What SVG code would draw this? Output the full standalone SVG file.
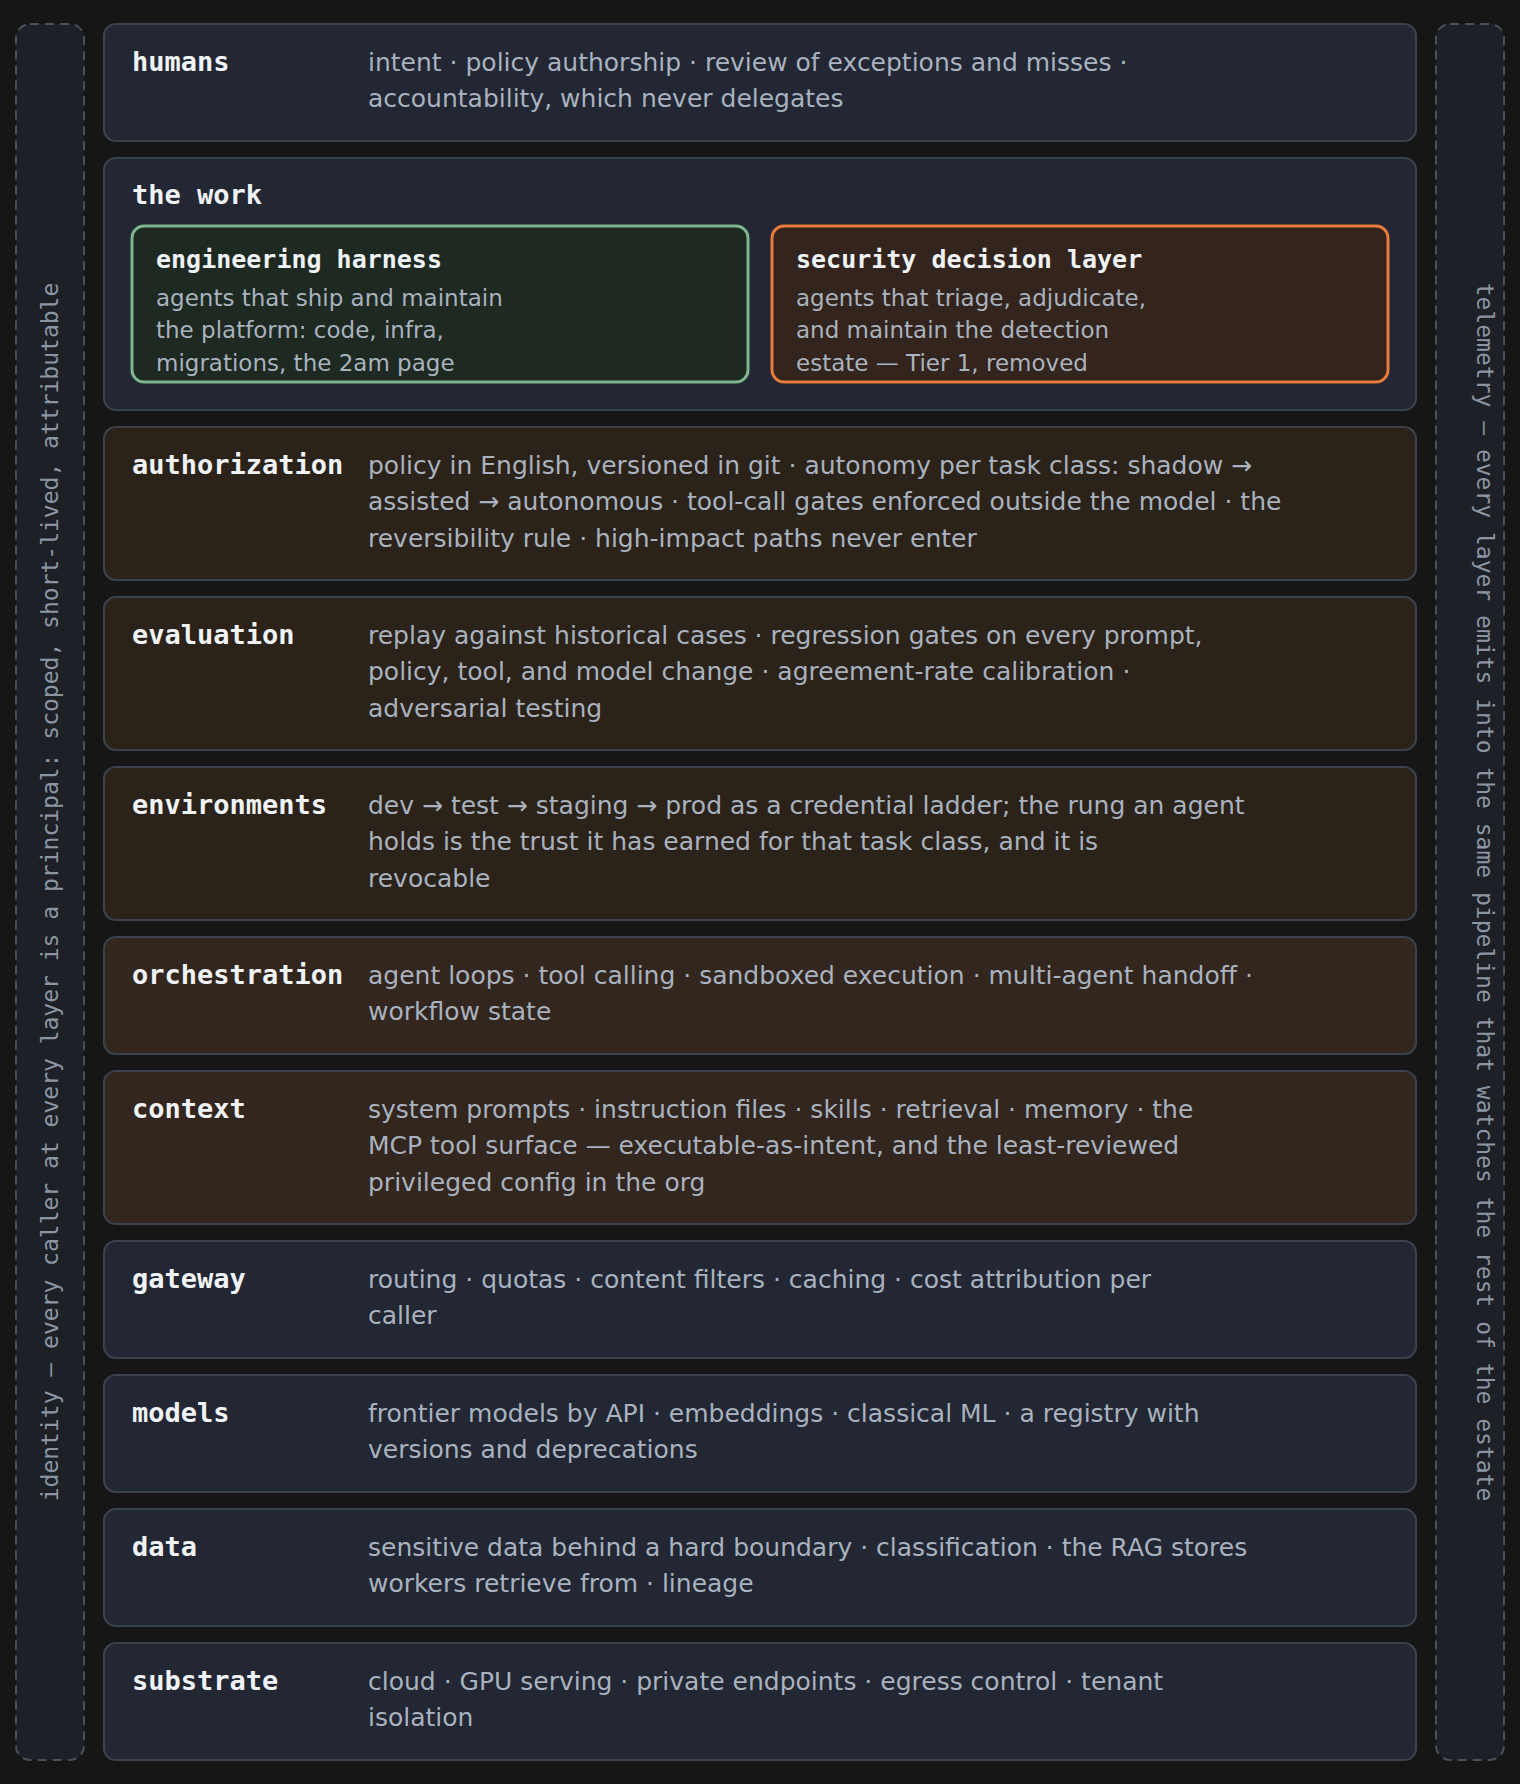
<svg xmlns="http://www.w3.org/2000/svg" width="1520" height="1784" viewBox="0 0 1520 1784">
<style>
.band{fill:#1e2028;stroke:#4a505b;stroke-width:2;stroke-dasharray:9 6}
.side{font-family:"DejaVu Sans Mono","Liberation Mono",monospace;font-size:23px;fill:#8c95a2;text-anchor:middle}
.row{stroke:#3b414d;stroke-width:2.2}
.blue{fill:#222733}
.brown1{fill:#2b2219}
.brown2{fill:#32261e}
.lbl{font-family:"DejaVu Sans Mono","Liberation Mono",monospace;font-weight:bold;font-size:27px;fill:#f0f3f6}
.desc{font-family:"DejaVu Sans","Liberation Sans",sans-serif;font-size:25px;fill:#a9b2bf}
.ttl{font-family:"DejaVu Sans Mono","Liberation Mono",monospace;font-weight:bold;font-size:25px;fill:#f0f3f6}
.idesc{font-family:"DejaVu Sans","Liberation Sans",sans-serif;font-size:23px;fill:#a9b2bf}
</style>
<rect x="0" y="0" width="1520" height="1784" fill="#161616"/>

<g id="identity">
<rect class="band" x="16" y="24" width="68" height="1736" rx="14"/>
<text class="side" x="58" y="892" transform="rotate(-90 58 892)">identity — every caller at every layer is a principal: scoped, short-lived, attributable</text>
</g>
<g id="telemetry">
<rect class="band" x="1436" y="24" width="68" height="1736" rx="14"/>
<text class="side" x="1477" y="892" transform="rotate(90 1477 892)">telemetry — every layer emits into the same pipeline that watches the rest of the estate</text>
</g>

<g id="humans">
<rect class="row blue" x="104" y="24" width="1312" height="117" rx="12"/>
<text class="lbl" x="132" y="70.5">humans</text>
<text class="desc" x="368" y="70.5">intent · policy authorship · review of exceptions and misses ·</text>
<text class="desc" x="368" y="106.9">accountability, which never delegates</text>
</g>

<g id="the-work">
<rect class="row blue" x="104" y="158" width="1312" height="252" rx="12"/>
<text class="lbl" x="132" y="203.5">the work</text>
<g id="engineering-harness">
<rect x="132" y="226" width="616" height="156" rx="12" fill="#1d2921" stroke="#7fb58d" stroke-width="3"/>
<text class="ttl" x="156" y="268">engineering harness</text>
<text class="idesc" x="156" y="306">agents that ship and maintain</text>
<text class="idesc" x="156" y="338.3">the platform: code, infra,</text>
<text class="idesc" x="156" y="370.6">migrations, the 2am page</text>
</g>
<g id="security-decision-layer">
<rect x="772" y="226" width="616" height="156" rx="12" fill="#33251d" stroke="#e8793a" stroke-width="3"/>
<text class="ttl" x="796" y="268">security decision layer</text>
<text class="idesc" x="796" y="306">agents that triage, adjudicate,</text>
<text class="idesc" x="796" y="338.3">and maintain the detection</text>
<text class="idesc" x="796" y="370.6">estate — Tier 1, removed</text>
</g>
</g>

<g id="authorization">
<rect class="row brown1" x="104" y="427" width="1312" height="153" rx="12"/>
<text class="lbl" x="132" y="474">authorization</text>
<text class="desc" x="368" y="474">policy in English, versioned in git · autonomy per task class: shadow →</text>
<text class="desc" x="368" y="510.4">assisted → autonomous · tool-call gates enforced outside the model · the</text>
<text class="desc" x="368" y="546.8">reversibility rule · high-impact paths never enter</text>
</g>

<g id="evaluation">
<rect class="row brown1" x="104" y="597" width="1312" height="153" rx="12"/>
<text class="lbl" x="132" y="644">evaluation</text>
<text class="desc" x="368" y="644">replay against historical cases · regression gates on every prompt,</text>
<text class="desc" x="368" y="680.4">policy, tool, and model change · agreement-rate calibration ·</text>
<text class="desc" x="368" y="716.8">adversarial testing</text>
</g>

<g id="environments">
<rect class="row brown1" x="104" y="767" width="1312" height="153" rx="12"/>
<text class="lbl" x="132" y="814">environments</text>
<text class="desc" x="368" y="814">dev → test → staging → prod as a credential ladder; the rung an agent</text>
<text class="desc" x="368" y="850.4">holds is the trust it has earned for that task class, and it is</text>
<text class="desc" x="368" y="886.8">revocable</text>
</g>

<g id="orchestration">
<rect class="row brown2" x="104" y="937" width="1312" height="117" rx="12"/>
<text class="lbl" x="132" y="984">orchestration</text>
<text class="desc" x="368" y="984">agent loops · tool calling · sandboxed execution · multi-agent handoff ·</text>
<text class="desc" x="368" y="1020.4">workflow state</text>
</g>

<g id="context">
<rect class="row brown2" x="104" y="1071" width="1312" height="153" rx="12"/>
<text class="lbl" x="132" y="1118">context</text>
<text class="desc" x="368" y="1118">system prompts · instruction files · skills · retrieval · memory · the</text>
<text class="desc" x="368" y="1154.4">MCP tool surface — executable-as-intent, and the least-reviewed</text>
<text class="desc" x="368" y="1190.8">privileged config in the org</text>
</g>

<g id="gateway">
<rect class="row blue" x="104" y="1241" width="1312" height="117" rx="12"/>
<text class="lbl" x="132" y="1288">gateway</text>
<text class="desc" x="368" y="1288">routing · quotas · content filters · caching · cost attribution per</text>
<text class="desc" x="368" y="1324.4">caller</text>
</g>

<g id="models">
<rect class="row blue" x="104" y="1375" width="1312" height="117" rx="12"/>
<text class="lbl" x="132" y="1422">models</text>
<text class="desc" x="368" y="1422">frontier models by API · embeddings · classical ML · a registry with</text>
<text class="desc" x="368" y="1458.4">versions and deprecations</text>
</g>

<g id="data">
<rect class="row blue" x="104" y="1509" width="1312" height="117" rx="12"/>
<text class="lbl" x="132" y="1556">data</text>
<text class="desc" x="368" y="1556">sensitive data behind a hard boundary · classification · the RAG stores</text>
<text class="desc" x="368" y="1592.4">workers retrieve from · lineage</text>
</g>

<g id="substrate">
<rect class="row blue" x="104" y="1643" width="1312" height="117" rx="12"/>
<text class="lbl" x="132" y="1690">substrate</text>
<text class="desc" x="368" y="1690">cloud · GPU serving · private endpoints · egress control · tenant</text>
<text class="desc" x="368" y="1726.4">isolation</text>
</g>

<g id="connectors"></g>
</svg>
